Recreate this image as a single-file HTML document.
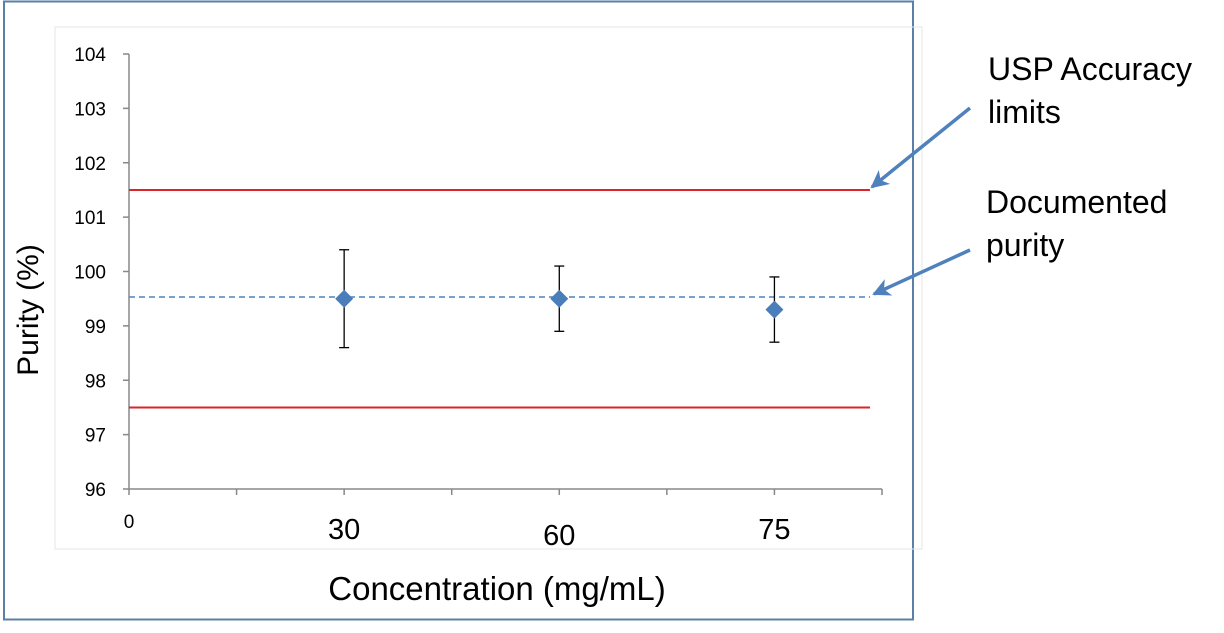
<!DOCTYPE html>
<html><head><meta charset="utf-8"><style>
html,body{margin:0;padding:0;background:#fff;}
svg{display:block;font-family:"Liberation Sans",Carlito,sans-serif;}
</style></head><body>
<svg id="c" width="1224" height="633" xmlns="http://www.w3.org/2000/svg">
<rect x="4" y="1.5" width="909" height="618" fill="#fff" stroke="#5b7fa6" stroke-width="2"/>
<rect x="55" y="27" width="867" height="522" fill="none" stroke="#e4e4e4" stroke-width="1"/>
<g id="axes"></g><g id="marks"></g>
<text x="38" y="310" font-size="30" text-anchor="middle" transform="rotate(-90 38 310)" fill="#000">Purity (%)</text>
<text x="497" y="600" font-size="33" text-anchor="middle" fill="#000">Concentration (mg/mL)</text>
<g font-size="32" fill="#000">
<text x="988" y="80">USP Accuracy</text>
<text x="988" y="123">limits</text>
<text x="986" y="213">Documented</text>
<text x="986" y="256">purity</text>
</g>
<defs><marker id="ah" markerWidth="20" markerHeight="18" refX="16" refY="9" orient="auto" markerUnits="userSpaceOnUse"><path d="M0,0 L18,9 L0,18 L5,9 Z" fill="#4f81bd"/></marker></defs>
<line x1="970" y1="108" x2="872" y2="187" stroke="#4f81bd" stroke-width="3.5" marker-end="url(#ah)"/>
<line x1="970" y1="250" x2="874" y2="294" stroke="#4f81bd" stroke-width="3.5" marker-end="url(#ah)"/>
</svg>
<script>
const categories=["30","60","75"];
const catIndex=[2,4,6];
const means=[99.5,99.5,99.3];
const errLow=[98.6,98.9,98.7];
const errHigh=[100.4,100.1,99.9];
const yTicks=[96,97,98,99,100,101,102,103,104];
const limits=[101.5,97.5];
const documented=99.53;
const NS="http://www.w3.org/2000/svg";
const x0=129,x1=882,nCat=7,yTop=54,yBot=489,yMin=96,yMax=104;
const X=i=>x0+(x1-x0)*i/nCat;
const Y=v=>yBot-(v-yMin)/(yMax-yMin)*(yBot-yTop);
function mk(p,tag,a){const e=document.createElementNS(NS,tag);for(const k in a)e.setAttribute(k,a[k]);p.appendChild(e);return e;}
const ax=document.getElementById('axes'),mg=document.getElementById('marks');
let e=mk(ax,'line',{x1:x0,y1:yTop,x2:x0,y2:yBot,stroke:'#888','stroke-width':1.5});


e=mk(ax,'line',{x1:x0,y1:yBot,x2:x1,y2:yBot,stroke:'#888','stroke-width':1.5});


yTicks.forEach(v=>{
 mk(ax,'line',{x1:x0-6,y1:Y(v),x2:x0,y2:Y(v),stroke:'#888','stroke-width':1.5});
 const t=mk(ax,'text',{x:106,y:Y(v)+7,'font-size':19,'text-anchor':'end',fill:'#000'});
 t.textContent=v;
 
 
});
for(let i=0;i<=nCat;i++){mk(ax,'line',{x1:X(i),y1:yBot,x2:X(i),y2:yBot+6,stroke:'#888','stroke-width':1.5});}
let t0=mk(ax,'text',{x:x0,y:528,'font-size':19,'text-anchor':'middle',fill:'#000'});t0.textContent='0';


const dy=[539,545,539];
categories.forEach((c,i)=>{
 const t=mk(ax,'text',{x:X(catIndex[i]),y:dy[i],'font-size':29,'text-anchor':'middle',fill:'#000'});
 t.textContent=c;
 
 
});
limits.forEach(v=>{
 const l=mk(mg,'line',{x1:x0,y1:Y(v),x2:870,y2:Y(v),stroke:'#d9262a','stroke-width':2});
 
 
});
e=mk(mg,'line',{x1:x0,y1:Y(documented),x2:870,y2:Y(documented),stroke:'#4f81bd','stroke-width':1.5,'stroke-dasharray':'6,4'});


categories.forEach((c,i)=>{
 const x=X(catIndex[i]);
 const g=mk(mg,'g',{});
 
 
 mk(g,'line',{x1:x,y1:Y(errLow[i]),x2:x,y2:Y(errHigh[i]),stroke:'#000','stroke-width':1.3});
 mk(g,'line',{x1:x-5,y1:Y(errLow[i]),x2:x+5,y2:Y(errLow[i]),stroke:'#000','stroke-width':1.3});
 mk(g,'line',{x1:x-5,y1:Y(errHigh[i]),x2:x+5,y2:Y(errHigh[i]),stroke:'#000','stroke-width':1.3});
 const y=Y(means[i]);
 mk(g,'path',{d:`M${x},${y-9} L${x+9},${y} L${x},${y+9} L${x-9},${y} Z`,fill:'#4a7ebb'});
});
</script>
</body></html>
